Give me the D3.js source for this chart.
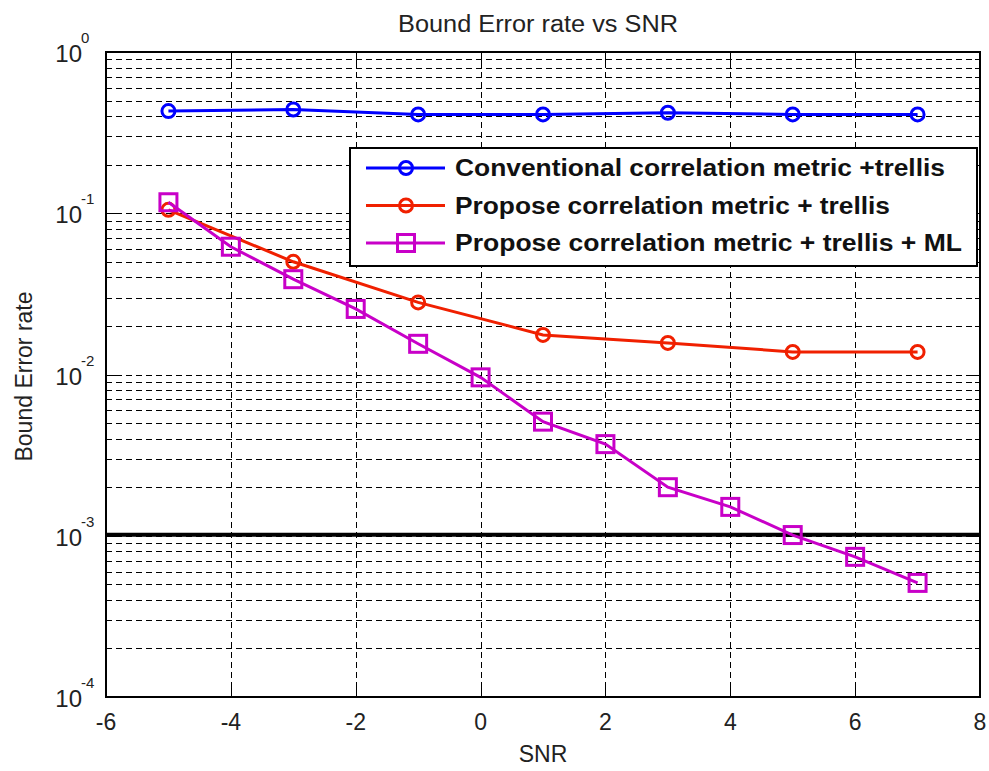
<!DOCTYPE html>
<html>
<head>
<meta charset="utf-8">
<script src="https://cdn.jsdelivr.net/npm/d3@7"></script>
<style>
  body { margin: 0; background: #fff; }
  text { font-family: "Liberation Sans", Arial, Helvetica, sans-serif; }
</style>
</head>
<body>
<div id="chart"></div>
<script>
// data
var snrOdd = [-5, -3, -1, 1, 3, 5, 7];
var snrAll = [-5, -4, -3, -2, -1, 0, 1, 2, 3, 4, 5, 6, 7];
var conventional = [0.43, 0.44, 0.41, 0.41, 0.42, 0.41, 0.41];
var proposed = [0.105, 0.050, 0.028, 0.0176, 0.0157, 0.0138, 0.0138];
var proposedML = [0.117, 0.062, 0.039, 0.0255, 0.0155, 0.0096, 0.0051, 0.0037, 0.0020, 0.00151, 0.00101, 0.00074, 0.00051];
var xTicks = [-6, -4, -2, 0, 2, 4, 6, 8];
var yExps = [0, -1, -2, -3, -4];
var threshold = 1e-3;
var legendLabels = ["Conventional correlation metric +trellis", "Propose correlation metric + trellis", "Propose correlation metric + trellis + ML"];

var W = 989, H = 771;
var margin = { top: 52, left: 106, right: 9, bottom: 74 };
var width = W - margin.left - margin.right;
var height = H - margin.top - margin.bottom;

var svg = d3.select("#chart").append("svg")
    .attr("width", W).attr("height", H);

var x = d3.scaleLinear().domain([-6, 8]).range([margin.left, margin.left + width]);
var y = d3.scaleLog().domain([1e-4, 1]).range([margin.top + height, margin.top]);
// snap to pixel centre so 1px lines stay crisp
function px(v) { return Math.round(v) + 0.5; }

// grid lines (major x, major+minor y)
var minorY = [];
for (var e = -4; e < 0; e++) {
  for (var k = 1; k <= 9; k++) minorY.push(k * Math.pow(10, e));
}
var grid = svg.append("g").attr("shape-rendering", "crispEdges");
grid.selectAll(".gx").data(xTicks.slice(1, -1)).enter().append("line")
    .attr("x1", d => px(x(d))).attr("x2", d => px(x(d)))
    .attr("y1", margin.top).attr("y2", margin.top + height)
    .style("stroke", "#000").style("stroke-width", 1).style("stroke-dasharray", "6,4");
grid.selectAll(".gy").data(minorY.filter(d => d > 1e-4)).enter().append("line")
    .attr("x1", margin.left).attr("x2", margin.left + width)
    .attr("y1", d => px(y(d))).attr("y2", d => px(y(d)))
    .style("stroke", "#000").style("stroke-width", 1).style("stroke-dasharray", "6,4");

// box + ticks
svg.append("rect").attr("x", margin.left).attr("y", margin.top)
    .attr("width", width).attr("height", height)
    .style("fill", "none").style("stroke", "#000").style("stroke-width", 2);

var ticks = svg.append("g").attr("shape-rendering", "crispEdges").style("stroke", "#000").style("stroke-width", 1.5);
xTicks.forEach(function(d) {
  ticks.append("line").attr("x1", px(x(d))).attr("x2", px(x(d))).attr("y1", margin.top + height).attr("y2", margin.top + height - 10);
  ticks.append("line").attr("x1", px(x(d))).attr("x2", px(x(d))).attr("y1", margin.top).attr("y2", margin.top + 10);
});
minorY.concat([1]).forEach(function(d) {
  var major = Math.abs(Math.log10(d) - Math.round(Math.log10(d))) < 1e-9;
  var len = major ? 10 : 5;
  ticks.append("line").attr("x1", margin.left).attr("x2", margin.left + len).attr("y1", px(y(d))).attr("y2", px(y(d)));
  ticks.append("line").attr("x1", margin.left + width).attr("x2", margin.left + width - len).attr("y1", px(y(d))).attr("y2", px(y(d)));
});

// tick labels
svg.selectAll(".xl").data(xTicks).enter().append("text")
    .attr("x", d => x(d)).attr("y", 730)
    .attr("text-anchor", "middle").style("font-size", "23px").style("fill", "#222")
    .text(d => d);
yExps.forEach(function(e) {
  svg.append("text").attr("x", 82).attr("y", y(Math.pow(10, e)) + 10)
      .attr("text-anchor", "end").style("font-size", "24px").style("fill", "#222").text("10");
  svg.append("text").attr("x", 81).attr("y", y(Math.pow(10, e)) - 9)
      .style("font-size", "15px").style("fill", "#222").text(e);
});

// axis titles
svg.append("text").attr("x", 538).attr("y", 32)
    .attr("text-anchor", "middle").style("font-size", "23px").style("fill", "#222")
    .attr("textLength", 280).attr("lengthAdjust", "spacingAndGlyphs")
    .text("Bound Error rate vs SNR");
svg.append("text").attr("x", margin.left + width / 2).attr("y", 762)
    .attr("text-anchor", "middle").style("font-size", "23px").style("fill", "#222")
    .text("SNR");
svg.append("text").attr("transform", "translate(32," + (margin.top + height / 2 + 2) + ") rotate(-90)")
    .attr("text-anchor", "middle").style("font-size", "23px").style("fill", "#222")
    .text("Bound Error rate");

// threshold line
svg.append("line").attr("x1", margin.left).attr("x2", margin.left + width)
    .attr("y1", y(threshold) - 1).attr("y2", y(threshold) - 1)
    .style("stroke", "#000").style("stroke-width", 4);

// series
var series = [
  { xs: snrOdd, ys: conventional, color: "#0000ff", marker: "circle" },
  { xs: snrOdd, ys: proposed, color: "#f02000", marker: "circle" },
  { xs: snrAll, ys: proposedML, color: "#c800c8", marker: "square" }
];
var line = d3.line().x(d => x(d[0])).y(d => y(d[1]));

series.forEach(function(s) {
  var pts = s.xs.map((v, i) => [v, s.ys[i]]);
  svg.append("path").datum(pts).attr("d", line)
      .style("fill", "none").style("stroke", s.color).style("stroke-width", 3);
  if (s.marker == "circle") {
    svg.selectAll(null).data(pts).enter().append("circle")
        .attr("cx", d => x(d[0])).attr("cy", d => y(d[1])).attr("r", 6.5)
        .style("fill", "none").style("stroke", s.color).style("stroke-width", 3);
  } else {
    svg.selectAll(null).data(pts).enter().append("rect")
        .attr("x", d => x(d[0]) - 8.5).attr("y", d => y(d[1]) - 8.5)
        .attr("width", 17).attr("height", 17)
        .style("fill", "none").style("stroke", s.color).style("stroke-width", 3);
  }
});

// legend
var lg = svg.append("g");
lg.append("rect").attr("x", 350).attr("y", 148).attr("width", 627).attr("height", 118)
    .style("fill", "#fff").style("stroke", "#000").style("stroke-width", 2);
var textWidths = [490, 435, 507];
series.forEach(function(s, i) {
  var yy = 168 + i * 37.5;
  lg.append("line").attr("x1", 366).attr("x2", 445).attr("y1", yy).attr("y2", yy)
      .style("stroke", s.color).style("stroke-width", 3);
  if (s.marker == "circle") {
    lg.append("circle").attr("cx", 406).attr("cy", yy).attr("r", 6.5)
        .style("fill", "none").style("stroke", s.color).style("stroke-width", 3);
  } else {
    lg.append("rect").attr("x", 397.5).attr("y", yy - 8.5).attr("width", 17).attr("height", 17)
        .style("fill", "none").style("stroke", s.color).style("stroke-width", 3);
  }
  lg.append("text").attr("x", 455).attr("y", yy + 8)
      .style("font-size", "23px").style("font-weight", "bold").style("fill", "#111")
      .attr("textLength", textWidths[i]).attr("lengthAdjust", "spacingAndGlyphs")
      .text(legendLabels[i]);
});
</script>
</body>
</html>
